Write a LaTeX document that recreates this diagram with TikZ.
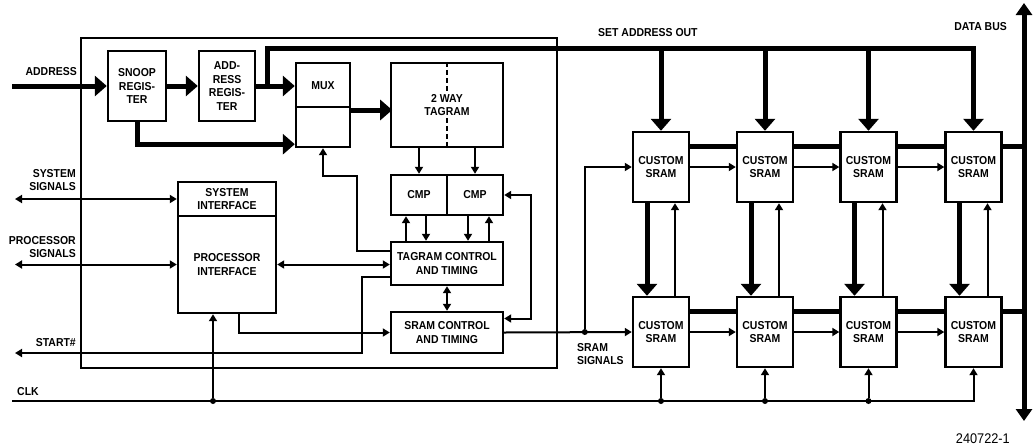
\documentclass[tikz,border=0pt]{standalone}
\usepackage{fontspec}
\setsansfont{Liberation Sans}[FakeStretch=0.91]
\usetikzlibrary{arrows.meta,calc}

\begin{document}
\begin{tikzpicture}[x=1pt,y=-1pt,
  font=\sffamily\bfseries\fontsize{11.5}{13.5}\selectfont,
  blk/.style={draw,line width=2.4pt,inner sep=0pt,align=center},
  sram/.style={blk,minimum width=56pt,minimum height=70pt},
  bus/.style={line width=5pt},
  busarrow/.style={bus,-{Triangle[length=12pt,width=20pt]}},
  sig/.style={line width=2pt},
  sigarrow/.style={sig,-{Triangle[length=7pt,width=8pt]}},
  sigboth/.style={sig,{Triangle[length=7pt,width=8pt]}-{Triangle[length=7pt,width=8pt]}},
  lbl/.style={inner sep=0pt,align=right,anchor=east},
  dot/.style={circle,fill,inner sep=0pt,minimum size=6pt}
]
\useasboundingbox (0,0) rectangle (1033,445);

% cache controller outline
\node[draw,line width=1.3pt,minimum width=476pt,minimum height=330pt,inner sep=0pt] (chip) at (319,203) {};

% blocks
\node[blk,minimum width=58pt,minimum height=70pt] (snoop) at (137,86) {SNOOP\\REGIS-\\TER};
\node[blk,minimum width=56pt,minimum height=70pt] (addr) at (227,86) {ADD-\\RESS\\REGIS-\\TER};
\node[blk,minimum width=54pt,minimum height=84pt] (mux) at (323,105) {};
\node (muxlbl) at (323,86) {MUX};
\draw[line width=2.4pt] (mux.west |- 0,107) -- (mux.east |- 0,107);
\node[blk,minimum width=112pt,minimum height=84pt] (tagram) at (447,105) {};
\draw[line width=1.5pt,dash pattern=on 5pt off 3pt] (tagram.north) -- (tagram.south);
\node[fill=white,inner sep=1pt,align=center] (tagramlbl) at (447,105) {2 WAY\\TAGRAM};
\node[blk,minimum width=56pt,minimum height=40pt] (cmpa) at (419,195) {CMP};
\node[blk,minimum width=56pt,minimum height=40pt] (cmpb) at (475,195) {CMP};
\node[blk,minimum width=112pt,minimum height=43pt] (tagctrl) at (447,263.5) {TAGRAM CONTROL\\AND TIMING};
\node[blk,minimum width=112pt,minimum height=41pt] (sramctrl) at (447,332.5) {SRAM CONTROL\\AND TIMING};
\node[blk,minimum width=98pt,minimum height=34pt] (sysif) at (227,199) {SYSTEM\\INTERFACE};
\node[blk,minimum width=98pt,minimum height=97pt] (procif) at (227,264.5) {PROCESSOR\\INTERFACE};

% sram array
\foreach \i/\x in {1/661,2/765,3/868.5,4/973.5} {
  \node[sram] (st\i) at (\x,167) {CUSTOM\\SRAM};
  \node[sram] (sb\i) at (\x,332) {CUSTOM\\SRAM};
}

% address path
\coordinate (addrin) at (12,86);
\draw[busarrow] (addrin) -- (snoop.west);
\draw[busarrow] (snoop.east) -- (addr.west);
\draw[busarrow] (addr.east) -- (mux.west |- addr.east);
\draw[busarrow] (snoop.south) |- ($(mux.south west)+(0,-4)$);
\draw[busarrow] ([yshift=-5pt]mux.east) -- ++(41,0);
\coordinate (split) at ($(addr.east)!0.3!(mux.west |- addr.east)$);
\coordinate (saoend) at (st4.north |- 0,48);
\draw[busarrow] (split) |- (saoend) -- (st4.north);
\foreach \i in {1,2,3}
  \draw[busarrow] (st\i.north |- saoend) -- (st\i.north);

% tagram and compare
\draw[sigarrow] (cmpa.north |- tagram.south) -- (cmpa.north);
\draw[sigarrow] (cmpb.north |- tagram.south) -- (cmpb.north);
\draw[sigarrow] ($(tagctrl.north -| cmpa.south)+(-13,0)$) -- ($(cmpa.south)+(-13,0)$);
\draw[sigarrow] ($(cmpa.south)+(7,0)$) -- ($(tagctrl.north -| cmpa.south)+(7,0)$);
\draw[sigarrow] ($(cmpb.south)+(-7,0)$) -- ($(tagctrl.north -| cmpb.south)+(-7,0)$);
\draw[sigarrow] ($(tagctrl.north -| cmpb.south)+(14,0)$) -- ($(cmpb.south)+(14,0)$);
\draw[sigboth] (tagctrl.south) -- (sramctrl.north);
\draw[sigboth] (cmpb.east) -- ++(27,0) |- ($(sramctrl.east)+(0,-14)$);
\draw[sigarrow] ($(tagctrl.west)+(0,-13)$) -- ++(-33,0) |- ($(mux.south)+(0,28)$) -- (mux.south);

% interface signals
\coordinate (sysout) at (sysif.west -| 15,0);
\coordinate (procout) at (procif.west -| 15,0);
\coordinate (startout) at (15,353);
\draw[sigboth] (sysout) -- (sysif.west);
\draw[sigboth] (procout) -- (procif.west);
\draw[sigboth] (procif.east) -- (tagctrl.west |- procif.east);
\draw[sigarrow] ($(tagctrl.west)+(0,13.5)$) -- ++(-28,0) |- (startout);
\draw[sigarrow] ($(procif.south)+(12,0)$) |- (sramctrl.west);

% clock
\coordinate (clkin) at (12,401);
\draw[sigarrow] (clkin) -| (sb4.south);
\path ($(procif.south)+(-14,0)$) coordinate (pclk);
\node[dot] (clkdot0) at (pclk |- clkin) {};
\draw[sigarrow] (clkdot0) -- (pclk);
\foreach \i in {1,2,3} {
  \node[dot] (clkdot\i) at (sb\i.south |- clkin) {};
  \draw[sigarrow] (clkdot\i) -- (sb\i.south);
}

% sram signals
\draw[sigarrow] (sramctrl.east) -- (sb1.west);
\node[dot] (ssdot) at ($(sb1.west)+(-47,0)$) {};
\draw[sigarrow] (ssdot) |- (st1.west);

% array connections
\foreach \i/\j in {1/2,2/3,3/4} {
  \draw[bus] ($(st\i.east)+(0,-21)$) -- ($(st\j.west)+(0,-21)$);
  \draw[bus] ($(sb\i.east)+(0,-21)$) -- ($(sb\j.west)+(0,-21)$);
  \draw[sigarrow] (st\i.east) -- (st\j.west);
  \draw[sigarrow] (sb\i.east) -- (sb\j.west);
}
\foreach \i in {1,...,4} {
  \draw[busarrow] ($(st\i.south)+(-14,0)$) -- ($(sb\i.north)+(-14,0)$);
  \draw[sigarrow] ($(sb\i.north)+(14,0)$) -- ($(st\i.south)+(14,0)$);
}

% data bus
\coordinate (dbtop) at (1024,3);
\coordinate (dbbot) at (1024,421);
\draw[bus,{Triangle[length=12pt,width=16pt]}-{Triangle[length=12pt,width=16pt]}] (dbbot) -- (dbtop);
\draw[bus] ($(st4.east)+(0,-21)$) -- ++(22.5,0);
\draw[bus] ($(sb4.east)+(0,-21)$) -- ++(22.5,0);

% labels
\node[lbl] (addrlbl) at (77,72) {ADDRESS};
\node[lbl] (syslbl) at (76,180) {SYSTEM\\SIGNALS};
\node[lbl] (proclbl) at (76,247) {PROCESSOR\\SIGNALS};
\node[lbl] (startlbl) at (76,343) {START\#};
\node[anchor=west,inner sep=0pt] (clklbl) at (17,392) {CLK};
\node[anchor=west,inner sep=0pt] (saolbl) at (598,33) {SET ADDRESS OUT};
\node[anchor=east,inner sep=0pt] (dblbl) at (1007,27) {DATA BUS};
\node[anchor=west,inner sep=0pt,align=left] (sslbl) at (577,354) {SRAM\\SIGNALS};
\node[anchor=east,inner sep=0pt,font=\sffamily\fontsize{14}{15}\selectfont] (figno) at (1010,439) {240722-1};
\end{tikzpicture}
\end{document}
